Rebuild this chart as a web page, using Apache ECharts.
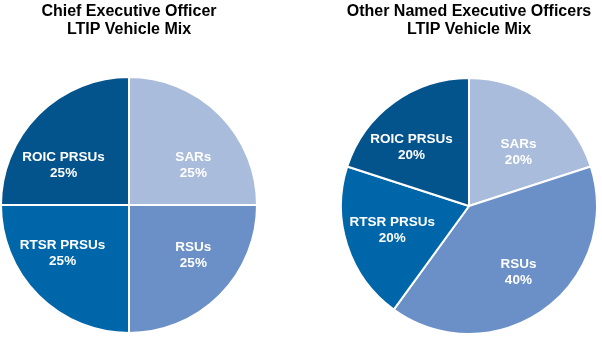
<!DOCTYPE html>
<html>
<head>
<meta charset="utf-8">
<script src="https://cdn.jsdelivr.net/npm/echarts@6/dist/echarts.min.js"></script>
<style>
html,body{margin:0;padding:0;background:#fff;}
#c{width:602px;height:337px;}
</style>
</head>
<body>
<div id="c"></div>
<script>
const categories = ['SARs', 'RSUs', 'RTSR PRSUs', 'ROIC PRSUs'];
const ceoValues = [25, 25, 25, 25];
const neoValues = [20, 40, 20, 20];
const titles = ['Chief Executive Officer\nLTIP Vehicle Mix', 'Other Named Executive Officers\nLTIP Vehicle Mix'];

const colors = ['#AABCDB', '#6B8FC7', '#0066AA', '#03538D'];
const ceoLabelShift = [[17, 8], [17, 3], [-19, 1], [-18, 8]];
const neoLabelShift = [[10, 0], [10, 12], [-13, 4], [-18, -5]];

function buildData(values, shifts) {
  return categories.map((name, i) => ({
    name: name,
    value: values[i],
    itemStyle: { color: colors[i] },
    label: { offset: shifts[i] }
  }));
}

const labelStyle = {
  show: true,
  position: 'inside',
  formatter: p => p.name + '\n' + p.value + '%',
  color: '#fff',
  fontFamily: 'Liberation Sans, Arial, sans-serif',
  fontWeight: 'bold',
  fontSize: 13.5,
  lineHeight: 16,
  align: 'center'
};

const titleStyle = {
  fontFamily: 'Liberation Sans, Arial, sans-serif',
  fontWeight: 'bold',
  fontSize: 16,
  lineHeight: 18,
  color: '#000'
};

const chart = echarts.init(document.getElementById('c'), null, { renderer: 'canvas' });
chart.setOption({
  animation: false,
  backgroundColor: '#fff',
  title: [
    { text: titles[0], left: 129, top: 3, textAlign: 'center', textStyle: titleStyle, padding: 0 },
    { text: titles[1], left: 469, top: 3, textAlign: 'center', textStyle: titleStyle, padding: 0 }
  ],
  series: [
    {
      type: 'pie',
      center: [129, 205],
      radius: 128,
      startAngle: 90,
      clockwise: true,
      label: labelStyle,
      labelLine: { show: false },
      itemStyle: { borderColor: '#fff', borderWidth: 2 },
      emphasis: { disabled: true },
      data: buildData(ceoValues, ceoLabelShift)
    },
    {
      type: 'pie',
      center: [469, 206],
      radius: 128,
      startAngle: 90,
      clockwise: true,
      label: labelStyle,
      labelLine: { show: false },
      itemStyle: { borderColor: '#fff', borderWidth: 2 },
      emphasis: { disabled: true },
      data: buildData(neoValues, neoLabelShift)
    }
  ]
});
</script>
</body>
</html>
